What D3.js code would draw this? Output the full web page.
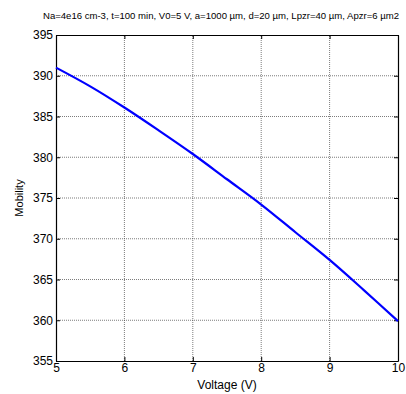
<!DOCTYPE html>
<html>
<head>
<meta charset="utf-8">
<script src="https://cdn.jsdelivr.net/npm/d3@7"></script>
<style>
  body { margin: 0; background: #fff; }
  text { font-family: "Liberation Sans", Arial, sans-serif; fill: #000; }
</style>
</head>
<body>
<svg id="chart"></svg>
<script>
const voltage = [5, 5.5, 6, 6.5, 7, 7.5, 8, 8.5, 9, 9.5, 10];
const mobility = [391.0, 388.7, 386.1, 383.3, 380.4, 377.3, 374.2, 370.8, 367.4, 363.7, 359.9];
const xTicks = [5, 6, 7, 8, 9, 10];
const yTicks = [355, 360, 365, 370, 375, 380, 385, 390, 395];
const title = "Na=4e16 cm-3, t=100 min, V0=5 V, a=1000 \u00b5m, d=20 \u00b5m, Lpzr=40 \u00b5m, Apzr=6 \u00b5m2";

const width = 406, height = 394;
const margin = { top: 35, right: 8, bottom: 33, left: 56 };

const svg = d3.select("#chart").attr("width", width).attr("height", height);

const x = d3.scaleLinear().domain([5, 10]).range([margin.left, width - margin.right]);
const y = d3.scaleLinear().domain([355, 395]).range([height - margin.bottom, margin.top]);

// grid
const grid = svg.append("g").attr("stroke", "#444").attr("stroke-width", 0.7).attr("stroke-dasharray", "1,1");
grid.selectAll(".gx").data(xTicks.slice(1, -1)).enter().append("line")
  .attr("x1", d => x(d)).attr("x2", d => x(d))
  .attr("y1", y(355)).attr("y2", y(395));
grid.selectAll(".gy").data(yTicks.slice(1, -1)).enter().append("line")
  .attr("x1", x(5)).attr("x2", x(10))
  .attr("y1", d => y(d)).attr("y2", d => y(d));

// axes (inward ticks, MATLAB style)
const axBottom = svg.append("g").attr("transform", `translate(0,${y(355)})`)
  .call(d3.axisBottom(x).tickValues(xTicks).tickFormat(d3.format("d")).tickSizeInner(-4).tickSizeOuter(0).tickPadding(2));
const axLeft = svg.append("g").attr("transform", `translate(${x(5)},0)`)
  .call(d3.axisLeft(y).tickValues(yTicks).tickSizeInner(-4).tickSizeOuter(0).tickPadding(3));
const axTop = svg.append("g").attr("transform", `translate(0,${y(395)})`)
  .call(d3.axisTop(x).tickValues(xTicks).tickSizeInner(-4).tickSizeOuter(0).tickFormat(""));
const axRight = svg.append("g").attr("transform", `translate(${x(10)},0)`)
  .call(d3.axisRight(y).tickValues(yTicks).tickSizeInner(-4).tickSizeOuter(0).tickFormat(""));

[axBottom, axLeft, axTop, axRight].forEach(a => {
  a.select(".domain").attr("stroke", "#000").attr("stroke-width", 1.2);
  a.selectAll(".tick line").attr("stroke", "#000");
  a.selectAll("text").attr("font-size", 12).attr("font-family", "Liberation Sans, Arial, sans-serif");
});

// line
const line = d3.line()
  .x((d, i) => x(voltage[i]))
  .y(d => y(d))
  .curve(d3.curveCatmullRom);

svg.append("path")
  .datum(mobility)
  .attr("fill", "none")
  .attr("stroke", "#0000ff")
  .attr("stroke-width", 2.2)
  .attr("d", line);

// labels
svg.append("text")
  .attr("x", 221).attr("y", 19)
  .attr("text-anchor", "middle").attr("font-size", 9.5)
  .attr("textLength", 356).attr("lengthAdjust", "spacingAndGlyphs")
  .text(title);

svg.append("text")
  .attr("x", (x(5) + x(10)) / 2).attr("y", 389)
  .attr("text-anchor", "middle").attr("font-size", 12)
  .text("Voltage (V)");

svg.append("text")
  .attr("transform", `translate(23,${(y(355) + y(395)) / 2}) rotate(-90)`)
  .attr("text-anchor", "middle").attr("font-size", 11)
  .text("Mobility");
</script>
</body>
</html>
